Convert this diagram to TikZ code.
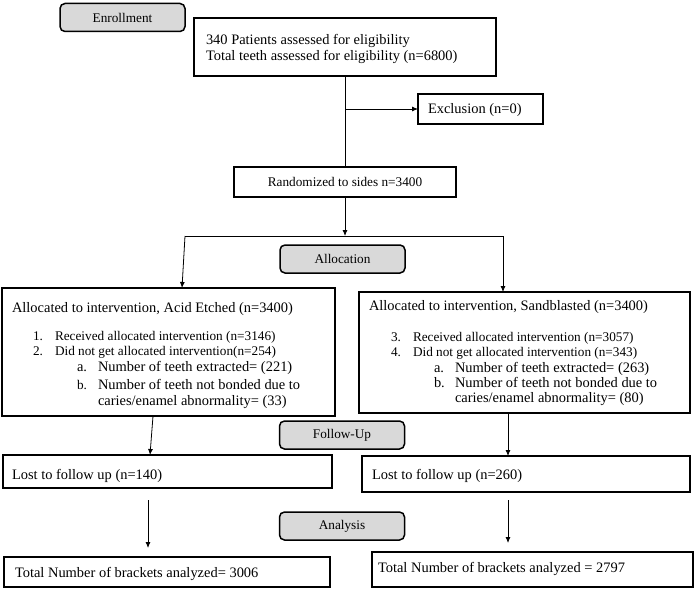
\documentclass[tikz,border=0pt]{standalone}
\usepackage{fontspec}
\setmainfont{Liberation Serif}
\usetikzlibrary{arrows.meta,calc}
\definecolor{boxgray}{RGB}{217,217,217}
\newcommand\txtL{\fontsize{14.5}{17}\selectfont}
\newcommand\txtS{\fontsize{13.3}{16}\selectfont}
\tikzset{
  box/.style={draw, inner sep=0pt, outer sep=0pt, line width=1.2bp, fill=white},
  medbox/.style={box, line width=2bp},
  thickbox/.style={box, line width=2.4bp},
  graybox/.style={draw, rounded corners=5bp, fill=boxgray, line width=1.5bp, inner sep=0pt, outer sep=0pt,
    minimum width=125bp, minimum height=28bp, font=\txtS},
  lbl/.style={anchor=base west, inner sep=0pt, outer sep=0pt, font=\txtL},
  slbl/.style={lbl, font=\txtS},
  conn/.style={line width=0.8bp},
  arr/.style={conn, -{Latex[length=6bp,width=5bp]}}
}
\begin{document}
\begin{tikzpicture}[x=1bp,y=-1bp]
\useasboundingbox (0,0) rectangle (696,590);

% enrollment
\node[graybox] (enroll) at (122.5,17.5) {Enrollment};
\node[thickbox, minimum width=302bp, minimum height=58bp] (top) at (345,47) {};
\node[lbl] (t1) at (206,45) {340 Patients assessed for eligibility};
\node[lbl] (t2) at (206,61) {Total teeth assessed for eligibility (n=6800)};
\node[medbox, minimum width=125bp, minimum height=30bp] (excl) at (480.5,109) {};
\node[lbl] (extxt) at (428,114) {Exclusion (n=0)};
\node[medbox, minimum width=222bp, minimum height=30bp, font=\txtS] (rand) at (345,182) {Randomized to sides n=3400};

% allocation
\node[graybox] (alloc) at (342.5,259) {Allocation};
\node[thickbox, minimum width=333bp, minimum height=128bp] (Lalloc) at (168.5,352) {};
\node[lbl] (la0) at (12,312) {Allocated to intervention, Acid Etched (n=3400)};
\node[slbl] (la1n) at (33,340) {1.};
\node[slbl] (la1) at (55,340) {Received allocated intervention (n=3146)};
\node[slbl] (la2n) at (33,355.5) {2.};
\node[slbl] (la2) at (55,355.5) {Did not get allocated intervention(n=254)};
\node[lbl] (laan) at (77,371.5) {a.};
\node[lbl] (laa) at (98,371.5) {Number of teeth extracted= (221)};
\node[slbl] (labn) at (77,389) {b.};
\node[lbl] (lab) at (98,389) {Number of teeth not bonded due to};
\node[lbl] (labc) at (98,405.5) {caries/enamel abnormality= (33)};

\node[box, minimum width=331bp, minimum height=121bp] (Ralloc) at (524.5,352.5) {};
\node[lbl] (ra0) at (369,310) {Allocated to intervention, Sandblasted (n=3400)};
\node[slbl] (ra1n) at (391,341.5) {3.};
\node[slbl] (ra1) at (413,341.5) {Received allocated intervention (n=3057)};
\node[slbl] (ra2n) at (391,356.5) {4.};
\node[slbl] (ra2) at (413,356.5) {Did not get allocated intervention (n=343)};
\node[lbl] (raan) at (434,372) {a.};
\node[lbl] (raa) at (455,372) {Number of teeth extracted= (263)};
\node[lbl] (rabn) at (434,387) {b.};
\node[lbl] (rab) at (455,387) {Number of teeth not bonded due to};
\node[lbl] (rabc) at (455,402) {caries/enamel abnormality= (80)};

% follow-up
\node[graybox] (follow) at (342,435) {Follow-Up};
\node[box, minimum width=329bp, minimum height=33bp] (Llost) at (167.5,471.5) {};
\node[lbl] (llt) at (12,479) {Lost to follow up (n=140)};
\node[box, minimum width=328bp, minimum height=36bp] (Rlost) at (526,474) {};
\node[lbl] (rlt) at (372,479) {Lost to follow up (n=260)};

% analysis
\node[graybox] (analysis) at (342,526) {Analysis};
\node[box, minimum width=326bp, minimum height=30bp] (Lfinal) at (167,572) {};
\node[lbl] (lft) at (15,577) {Total Number of brackets analyzed= 3006};
\node[box, minimum width=321bp, minimum height=35bp] (Rfinal) at (532.5,569.5) {};
\node[lbl] (rft) at (378,572.5) {Total Number of brackets analyzed = 2797};

% connectors
\coordinate (jl) at (185,236);
\coordinate (jr) at (503,236);
\coordinate (lx) at (148,0);
\coordinate (rx) at (508,0);
\draw[conn] (top.south) -- (top.south |- rand.north);
\draw[arr] (top.south |- excl.west) -- (excl.west);
\draw[arr] (rand.south) -- (rand.south |- jl);
\draw[conn] (jl) -- (jr);
\draw[arr] (jl) -- ($(jl |- Lalloc.north)+(-3,0)$);
\draw[arr] (jr) -- (jr |- Ralloc.north);
\draw[arr] ($(Lalloc.south)+(-15.5,0)$) -- ($(Llost.north)+(-17.5,0)$);
\draw[arr] ($(Ralloc.south)+(-16.5,0)$) -- ($(Rlost.north)+(-18,0)$);
\draw[arr, shorten <=12bp, shorten >=9bp] (Llost.south -| lx) -- (Lfinal.north -| lx);
\draw[arr, shorten <=8bp, shorten >=9bp] (Rlost.south -| rx) -- (Rfinal.north -| rx);
\end{tikzpicture}
\end{document}
